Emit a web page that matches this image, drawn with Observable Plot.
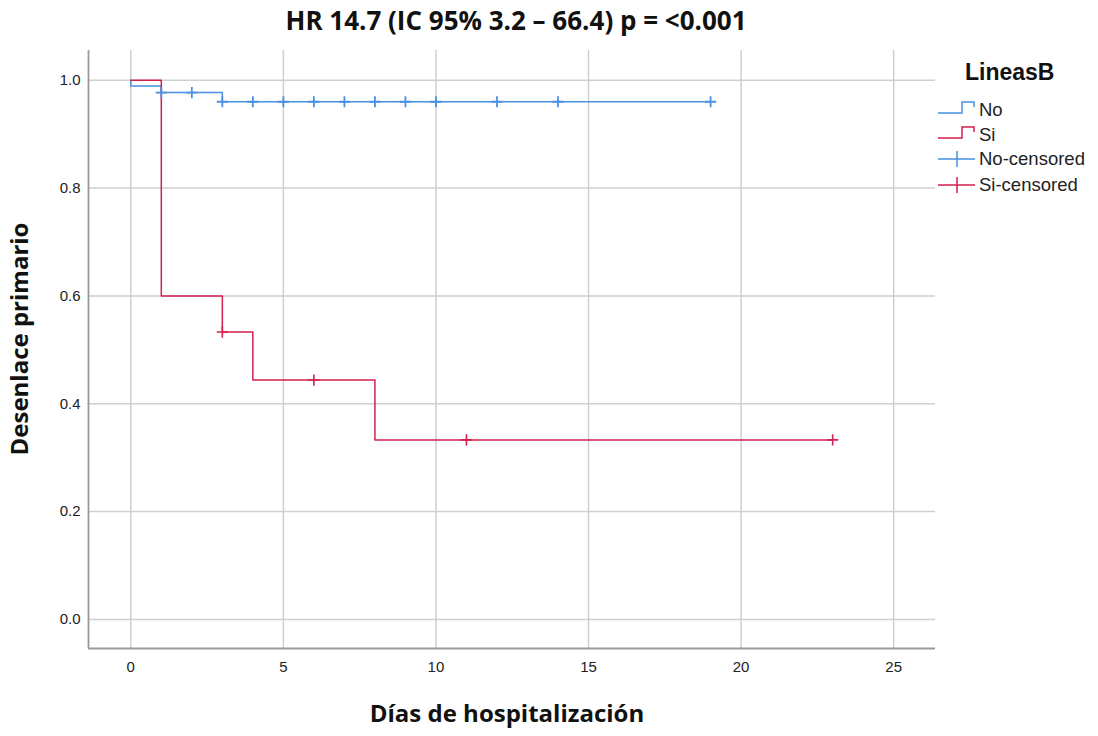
<!DOCTYPE html>
<html>
<head>
<meta charset="utf-8">
<script src="https://cdn.jsdelivr.net/npm/d3@7"></script>
<script src="https://cdn.jsdelivr.net/npm/@observablehq/plot@0.6"></script>
<style>
  body { margin: 0; background: #fff; }
  #wrap { position: relative; width: 1098px; height: 736px; overflow: hidden; }
  #title { height: 40px; width: 1032px; text-align: center; font-family: "Open Sans", Lato, sans-serif; font-weight: 700; font-size: 26px; line-height: 40px; color: #111; }
  .axlab { position: absolute; font-family: "Open Sans", Lato, sans-serif; font-weight: 700; font-size: 24px; color: #111; white-space: nowrap; line-height: 30px; }
  #legend { position: absolute; left: 930px; top: 55px; font-family: "Liberation Sans", Arial, sans-serif; color: #111; }
</style>
</head>
<body>
<div id="wrap">
  <div id="title">HR 14.7 (IC 95% 3.2 – 66.4) p = &lt;0.001</div>
  <div id="chart"></div>
  <div class="axlab" id="xlab" style="left:0;width:1014px;text-align:center;top:698px;">Días de hospitalización</div>
  <div class="axlab" id="ylab" style="left:19px;top:339px;transform:translate(-50%,-50%) rotate(-90deg);">Desenlace primario</div>
  <div id="legend"></div>
</div>
<script>
// ---- data ----
const xTicks = [0, 5, 10, 15, 20, 25];
const yTicks = [0.0, 0.2, 0.4, 0.6, 0.8, 1.0];

const groups = ["No", "Si"];
const groupColors = ["#4a90e2", "#d3214f"];

// step curve for group "No"
const timesNo = [0, 0, 1, 3, 19];
const survNo  = [1.0, 0.989, 0.977, 0.960, 0.960];
// step curve for group "Si"
const timesSi = [0, 1, 3, 4, 8, 23];
const survSi  = [1.0, 0.600, 0.533, 0.444, 0.333, 0.333];

// censored observations
const censNoTimes = [1, 2, 3, 4, 5, 6, 7, 8, 9, 10, 12, 14, 19];
const censNoSurv  = [0.977, 0.977, 0.960, 0.960, 0.960, 0.960, 0.960, 0.960, 0.960, 0.960, 0.960, 0.960, 0.960];
const censSiTimes = [3, 6, 11, 23];
const censSiSurv  = [0.533, 0.444, 0.333, 0.333];

const legendLabels = ["No", "Si", "No-censored", "Si-censored"];
const legendTitle = "LineasB";

// ---- build ----
const xDomain = [-1.386, 26.37];
const yDomain = [-0.0538, 1.055];

const toRows = (ts, ss) => ts.map((t, i) => ({t, s: ss[i]}));
const noRows = toRows(timesNo, survNo);
const siRows = toRows(timesSi, survSi);
const cNo = toRows(censNoTimes, censNoSurv);
const cSi = toRows(censSiTimes, censSiSurv);

const tickFont = {fontFamily: "'Liberation Sans', Arial, sans-serif", fontSize: 15, fill: "#222"};

const chart = Plot.plot({
  width: 1098,
  height: 696,
  marginLeft: 88,
  marginRight: 163,
  marginTop: 10,
  marginBottom: 88,
  style: {background: "white", overflow: "visible"},
  x: {domain: xDomain, label: null},
  y: {domain: yDomain, label: null},
  marks: [
    Plot.gridX(xTicks, {stroke: "#cfcfcf", strokeOpacity: 1, strokeWidth: 1.5}),
    Plot.gridY(yTicks, {stroke: "#cfcfcf", strokeOpacity: 1, strokeWidth: 1.5}),
    Plot.ruleX([xDomain[0]], {stroke: "#9a9a9a", strokeWidth: 1.8}),
    Plot.ruleY([yDomain[0]], {stroke: "#9a9a9a", strokeWidth: 1.8}),
    Plot.axisX(xTicks, {tickSize: 0, tickPadding: 13, ...tickFont, tickFormat: d3.format("d"), label: null}),
    Plot.axisY(yTicks, {tickSize: 0, tickPadding: 8, ...tickFont, tickFormat: d3.format(".1f"), label: null}),
    Plot.line(noRows, {x: "t", y: "s", curve: "step-after", stroke: groupColors[0], strokeWidth: 1.5}),
    Plot.line(siRows, {x: "t", y: "s", curve: "step-after", stroke: groupColors[1], strokeWidth: 1.5}),
    Plot.dot(cNo, {x: "t", y: "s", symbol: "plus", r: 3.7, stroke: groupColors[0], strokeWidth: 1.8}),
    Plot.dot(cSi, {x: "t", y: "s", symbol: "plus", r: 3.7, stroke: groupColors[1], strokeWidth: 1.6})
  ]
});
document.getElementById("chart").appendChild(chart);

// ---- legend ----
const ns = "http://www.w3.org/2000/svg";
const lg = d3.select("#legend").append("svg").attr("width", 168).attr("height", 150).attr("xmlns", ns);
lg.append("text").attr("x", 35).attr("y", 25).attr("font-size", 23).attr("font-weight", "bold")
  .attr("font-family", "'Liberation Sans', Arial, sans-serif").attr("fill", "#111").text(legendTitle);
const rowY = [55, 80, 104, 130];
legendLabels.forEach((lab, i) => {
  const col = groupColors[i % 2];
  const y = rowY[i];
  if (i < 2) {
    lg.append("path").attr("d", `M8,${y + 3}H32V${y - 8}H44V${y - 3}`)
      .attr("fill", "none").attr("stroke", col).attr("stroke-width", 1.5);
  } else {
    lg.append("path").attr("d", `M8,${y}H45M27,${y - 8}V${y + 8}`)
      .attr("fill", "none").attr("stroke", col).attr("stroke-width", 1.5);
  }
  lg.append("text").attr("x", 49).attr("y", y + 6).attr("font-size", 18.5)
    .attr("font-family", "'Liberation Sans', Arial, sans-serif").attr("fill", "#222").text(lab);
});
</script>
</body>
</html>
